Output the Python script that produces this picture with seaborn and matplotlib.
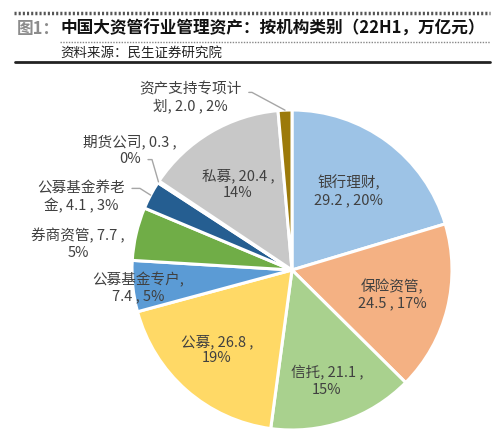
import numpy as np
import seaborn as sns
import matplotlib
matplotlib.use("Agg")
from matplotlib import pyplot as plt
from matplotlib.lines import Line2D

sns.set_theme(style="white")
plt.rcParams['font.family'] = ['Noto Sans CJK SC', 'DejaVu Sans']

# data (22H1, 万亿元)
categories = ['银行理财', '保险资管', '信托', '公募', '公募基金专户', '券商资管',
              '公募基金养老金', '期货公司', '私募', '资产支持专项计划']
values = [29.2, 24.5, 21.1, 26.8, 7.4, 7.7, 4.1, 0.3, 20.4, 2.0]
pcts = ['20%', '17%', '15%', '19%', '5%', '5%', '3%', '0%', '14%', '2%']
colors = ['#9DC3E6', '#F4B183', '#A9D18E', '#FFD966', '#5B9BD5', '#70AD47',
          '#255E91', '#9E480E', '#C8C8C8', '#9C7A0A']

# label text and where it sits (pie radius units)
label_text = ['银行理财,\n29.2 , 20%', '保险资管,\n24.5 , 17%', '信托, 21.1 ,\n15%',
              '公募, 26.8 ,\n19%', '公募基金专户,\n7.4 , 5%', '券商资管, 7.7 ,\n5%',
              '公募基金养老\n金, 4.1 , 3%', '期货公司, 0.3 ,\n0%', '私募, 20.4 ,\n14%',
              '资产支持专项计\n划, 2.0 , 2%']
label_pos = [(0.356, 0.494), (0.625, -0.156), (0.219, -0.694), (-0.469, -0.50),
             (-0.962, -0.112), (-1.337, 0.162), (-1.319, 0.456), (-1.012, 0.75),
             (-0.337, 0.537), (-0.637, 1.075)]
# leader line start points for the outside labels
leaders = {6: [(-1.00, 0.51), (-0.95, 0.51)],
           7: [(-0.90, 0.69), (-0.875, 0.69)],
           9: [(-0.27, 1.11), (-0.25, 1.11)]}

fig = plt.figure(figsize=(5, 4.45), dpi=100)

# header
fig.add_artist(Line2D([14/500, 490/500], [1-13/445, 1-13/445], color='#555555', lw=2.5,
                      ls=(0, (0.6, 0.6))))
fig.add_artist(Line2D([60/500, 490/500], [1-42/445, 1-42/445], color='#888888', lw=1,
                      ls=(0, (1, 1))))
fig.add_artist(Line2D([15/500, 490/500], [1-62/445, 1-62/445], color='#222222', lw=2))
fig.text(17/500, 1-29/445, '图1：', color='#8C8C8C', fontsize=12, fontweight='bold', va='center')
fig.text(60/500, 1-29/445, '中国大资管行业管理资产：按机构类别（22H1，万亿元）',
         color='#111111', fontsize=12, fontweight='bold', va='center')
fig.text(60/500, 1-53/445, '资料来源：民生证券研究院', color='#222222', fontsize=9.7, va='center')

# pie: centre at (292, 270) px, radius 160 px
ax = fig.add_axes([(292-175)/500, (445-270-175)/445, 350/500, 350/445])
wedges, _ = ax.pie(values, colors=colors, startangle=90, counterclock=False, radius=1,
                   wedgeprops=dict(edgecolor='white', linewidth=2.2))
ax.set_xlim(-175/160, 175/160)
ax.set_ylim(-175/160, 175/160)
ax.set_aspect('equal')
ax.axis('off')

for i, w in enumerate(wedges):
    x, y = label_pos[i]
    ax.text(x, y, label_text[i], ha='center', va='center', fontsize=10.5,
            color='#404040', linespacing=1.2, clip_on=False)
    if i in leaders:
        mid = np.deg2rad((w.theta1 + w.theta2) / 2)
        pts = leaders[i] + [(np.cos(mid), np.sin(mid))]
        xs, ys = zip(*pts)
        ax.add_line(Line2D(xs, ys, color='#A6A6A6', lw=1, clip_on=False))

fig.savefig('out.png', dpi=100)
